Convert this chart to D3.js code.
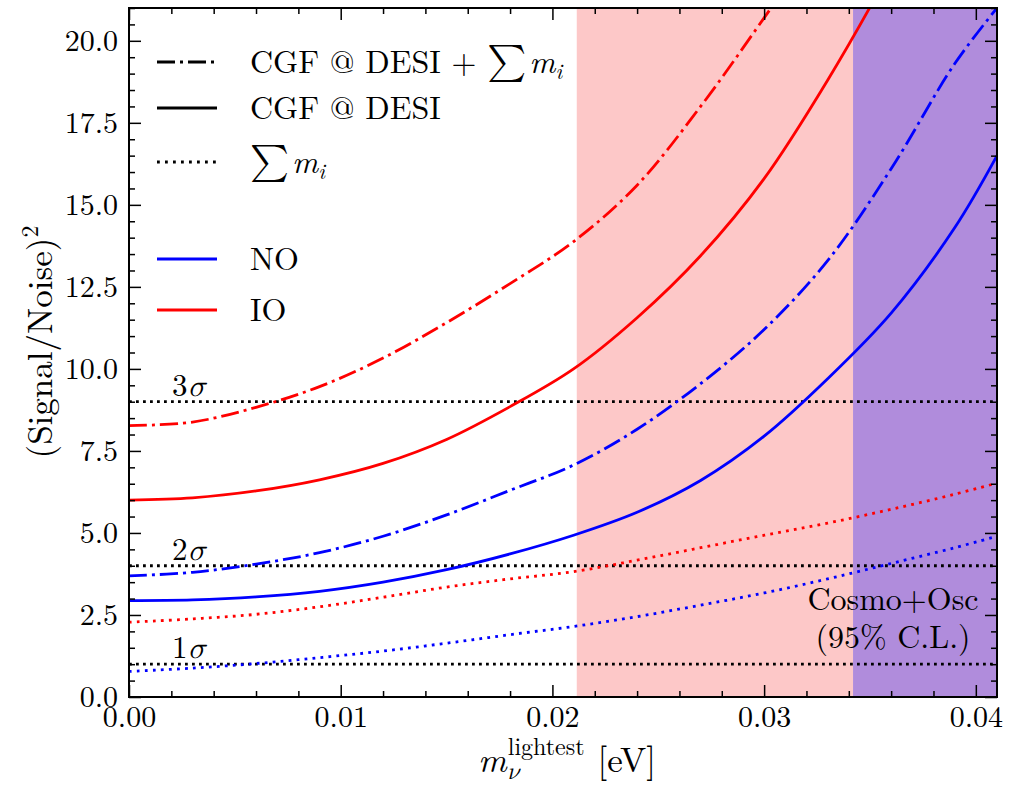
<!DOCTYPE html>
<html>
<head>
<meta charset="utf-8">
<script src="https://d3js.org/d3.v7.min.js"></script>
<style>
body { margin: 0; background: #fff; }
</style>
</head>
<body>
<script>
//lightest neutrino mass grid [eV]
var mLightest = [0, 0.003, 0.006, 0.009, 0.012, 0.015, 0.018, 0.021, 0.024, 0.027, 0.030, 0.033, 0.036, 0.039, 0.041];

//(Signal/Noise)^2, one array per curve
var noCgfSum = [3.69, 3.80, 4.05, 4.40, 4.90, 5.55, 6.30, 7.07, 8.16, 9.55, 11.2, 13.3, 16.1, 19.3, 21.0];
var noCgf    = [2.94, 2.96, 3.05, 3.22, 3.50, 3.88, 4.36, 4.93, 5.63, 6.60, 7.95, 9.70, 11.7, 14.3, 16.5];
var noSum    = [0.78, 0.88, 1.02, 1.20, 1.40, 1.64, 1.90, 2.15, 2.45, 2.80, 3.17, 3.60, 4.07, 4.55, 4.90];
var ioCgfSum = [8.27, 8.38, 8.83, 9.46, 10.33, 11.41, 12.6, 13.88, 15.6, 18.0, 20.7, 23.5, 26.4, 29.5, 31.6];
var ioCgf    = [6.00, 6.07, 6.28, 6.62, 7.12, 7.85, 8.85, 10.0, 11.56, 13.45, 15.8, 18.8, 22.2, 26.0, 28.5];
var ioSum    = [2.28, 2.38, 2.52, 2.75, 3.04, 3.35, 3.60, 3.82, 4.17, 4.55, 4.93, 5.30, 5.72, 6.18, 6.52];

//significance thresholds
var sigmaLevels = [1, 4, 9];
var sigmaLabels = ["1", "2", "3"];

//excluded bands [eV]
var pinkBand = [0.02115, 0.0342];
var purpleBand = [0.0342, 0.041];

//tick values
var xTicks = [0, 0.01, 0.02, 0.03, 0.04];
var yTicks = [0, 2.5, 5, 7.5, 10, 12.5, 15, 17.5, 20];

//Computer Modern look-alike, with fallbacks for greek and the sum sign
var cm = "'Latin Modern Roman', 'Liberation Serif', serif";
var cmMath = "'Latin Modern Math', 'Latin Modern Roman', 'Liberation Serif', serif";

window.onload = setChart;

function setChart(){

    //frame dimensions
    var width = 1022,
        height = 786;

    var svg = d3.select("body")
        .append("svg")
        .attr("width", width)
        .attr("height", height);

    //scales
    var x = d3.scaleLinear().domain([0, 0.041]).range([129, 997]);
    var y = d3.scaleLinear().domain([0, 21]).range([697, 8]);

    //minor tick lists
    var xMinor = d3.range(0, 0.0411, 0.002).filter(function(d){ return Math.abs(d * 100 - Math.round(d * 100)) > 1e-6; });
    var yMinor = d3.range(0, 21.01, 0.5).filter(function(d){ return Math.abs(d / 2.5 - Math.round(d / 2.5)) > 1e-6; });

    //helper for text in the figure font
    function addText(parent, size){
        return parent.append("text")
            .style("font-family", cm)
            .style("font-size", size + "px")
            .style("fill", "#000");
    }

    //clip everything to the axes box
    svg.append("clipPath")
        .attr("id", "plotClip")
        .append("rect")
        .attr("x", x(0))
        .attr("y", y(21))
        .attr("width", x(0.041) - x(0))
        .attr("height", y(0) - y(21));

    var plot = svg.append("g").attr("clip-path", "url(#plotClip)");

    //shaded bands
    plot.append("rect")
        .attr("x", x(pinkBand[0]))
        .attr("y", y(21))
        .attr("width", x(pinkBand[1]) - x(pinkBand[0]))
        .attr("height", y(0) - y(21))
        .style("fill", "#fdc8c8");

    plot.append("rect")
        .attr("x", x(purpleBand[0]))
        .attr("y", y(21))
        .attr("width", x(purpleBand[1]) - x(purpleBand[0]))
        .attr("height", y(0) - y(21))
        .style("fill", "#b08cdc");

    //significance lines
    plot.selectAll(".sigma")
        .data(sigmaLevels)
        .enter()
        .append("line")
        .attr("class", "sigma")
        .attr("x1", x(0))
        .attr("x2", x(0.041))
        .attr("y1", function(d){ return y(d); })
        .attr("y2", function(d){ return y(d); })
        .style("stroke", "#000")
        .style("stroke-width", 2.8)
        .style("stroke-dasharray", "2.8,4.2");

    //curves
    var line = d3.line()
        .x(function(d){ return x(d[0]); })
        .y(function(d){ return y(d[1]); })
        .curve(d3.curveCatmullRom.alpha(0.5));

    var dashDot = "18,5,3,5",
        dotted = "2.8,5.2";

    var curves = [
        { vals: ioSum, color: "#f00", dash: dotted },
        { vals: noSum, color: "#00f", dash: dotted },
        { vals: ioCgf, color: "#f00", dash: null },
        { vals: noCgf, color: "#00f", dash: null },
        { vals: ioCgfSum, color: "#f00", dash: dashDot },
        { vals: noCgfSum, color: "#00f", dash: dashDot }
    ];

    curves.forEach(function(c){
        plot.append("path")
            .datum(mLightest.map(function(m, i){ return [m, c.vals[i]]; }))
            .attr("d", line)
            .style("fill", "none")
            .style("stroke", c.color)
            .style("stroke-width", 2.8)
            .style("stroke-dasharray", c.dash);
    });

    //sigma labels
    sigmaLevels.forEach(function(d, i){
        var t = addText(svg, 31)
            .attr("x", 172)
            .attr("y", y(d) - 6);
        t.append("tspan").text(sigmaLabels[i]);
        t.append("tspan").style("font-family", cmMath).style("font-style", "italic").text("σ");
    });

    //band annotation
    addText(svg, 32)
        .attr("x", 893)
        .attr("y", 610)
        .attr("text-anchor", "middle")
        .text("Cosmo+Osc");
    addText(svg, 32)
        .attr("x", 893)
        .attr("y", 648)
        .attr("text-anchor", "middle")
        .text("(95% C.L.)");

    //axes with inward ticks on all four sides
    function styleAxis(g){
        g.select(".domain").remove();
        g.selectAll("line").style("stroke", "#000").style("stroke-width", 1.5);
        g.selectAll("text")
            .style("font-family", cm)
            .style("font-size", "30px")
            .style("fill", "#000");
    }

    svg.append("g")
        .attr("transform", "translate(0," + y(0) + ")")
        .call(d3.axisBottom(x).tickValues(xTicks).tickSizeInner(-12).tickSizeOuter(0).tickPadding(9).tickFormat(d3.format(".2f")))
        .call(styleAxis);
    svg.append("g")
        .attr("transform", "translate(0," + y(0) + ")")
        .call(d3.axisBottom(x).tickValues(xMinor).tickSizeInner(-6).tickSizeOuter(0).tickFormat(""))
        .call(styleAxis);
    svg.append("g")
        .attr("transform", "translate(0," + y(21) + ")")
        .call(d3.axisTop(x).tickValues(xTicks).tickSizeInner(-12).tickSizeOuter(0).tickFormat(""))
        .call(styleAxis);
    svg.append("g")
        .attr("transform", "translate(0," + y(21) + ")")
        .call(d3.axisTop(x).tickValues(xMinor).tickSizeInner(-6).tickSizeOuter(0).tickFormat(""))
        .call(styleAxis);

    svg.append("g")
        .attr("transform", "translate(" + x(0) + ",0)")
        .call(d3.axisLeft(y).tickValues(yTicks).tickSizeInner(-12).tickSizeOuter(0).tickPadding(11).tickFormat(d3.format(".1f")))
        .call(styleAxis);
    svg.append("g")
        .attr("transform", "translate(" + x(0) + ",0)")
        .call(d3.axisLeft(y).tickValues(yMinor).tickSizeInner(-6).tickSizeOuter(0).tickFormat(""))
        .call(styleAxis);
    svg.append("g")
        .attr("transform", "translate(" + x(0.041) + ",0)")
        .call(d3.axisRight(y).tickValues(yTicks).tickSizeInner(-12).tickSizeOuter(0).tickFormat(""))
        .call(styleAxis);
    svg.append("g")
        .attr("transform", "translate(" + x(0.041) + ",0)")
        .call(d3.axisRight(y).tickValues(yMinor).tickSizeInner(-6).tickSizeOuter(0).tickFormat(""))
        .call(styleAxis);

    //axes frame
    svg.append("rect")
        .attr("x", x(0))
        .attr("y", y(21))
        .attr("width", x(0.041) - x(0))
        .attr("height", y(0) - y(21))
        .style("fill", "none")
        .style("stroke", "#000")
        .style("stroke-width", 2);

    //legend
    var legend = svg.append("g");
    var legendRows = [
        { y: 62, color: "#000", dash: dashDot, label: "cgfsum" },
        { y: 108, color: "#000", dash: null, label: "CGF @ DESI" },
        { y: 162, color: "#000", dash: dotted, label: "sum" },
        { y: 259, color: "#00f", dash: null, label: "NO" },
        { y: 310, color: "#f00", dash: null, label: "IO" }
    ];

    legendRows.forEach(function(r){
        legend.append("line")
            .attr("x1", 157)
            .attr("x2", 217)
            .attr("y1", r.y)
            .attr("y2", r.y)
            .style("stroke", r.color)
            .style("stroke-width", 2.8)
            .style("stroke-dasharray", r.dash);

        var t = addText(legend, 32)
            .attr("x", 250)
            .attr("y", r.y + 11);

        if (r.label == "cgfsum" || r.label == "sum"){
            if (r.label == "cgfsum") t.append("tspan").text("CGF @ DESI + ");
            t.append("tspan").style("font-family", cmMath).style("font-size", "37px").text("∑");
            t.append("tspan").attr("dx", 3).style("font-style", "italic").text("m");
            t.append("tspan").attr("dy", 6).style("font-style", "italic").style("font-size", "22px").text("i");
        } else {
            t.text(r.label);
        }
    });

    //x label: m_nu^lightest [eV]
    var xl = svg.append("g");
    var mText = addText(xl, 35).style("font-style", "italic").text("m");
    var mW = mText.node().getComputedTextLength();
    var sup = addText(xl, 24).attr("x", mW + 1).attr("y", -17).text("lightest");
    addText(xl, 24).attr("x", mW + 1).attr("y", 7).style("font-family", cmMath).style("font-style", "italic").text("ν");
    var supW = sup.node().getComputedTextLength();
    var ev = addText(xl, 35).attr("x", mW + supW + 14).text("[eV]");
    var total = mW + supW + 14 + ev.node().getComputedTextLength();
    xl.attr("transform", "translate(" + (567 - total / 2) + ",772)");

    //y label: (Signal/Noise)^2
    var yl = addText(svg, 35)
        .attr("transform", "translate(52,342) rotate(-90)")
        .attr("text-anchor", "middle");
    yl.append("tspan").text("(Signal/Noise)");
    yl.append("tspan").attr("dy", -14).style("font-size", "24px").text("2");

}
</script>
</body>
</html>
